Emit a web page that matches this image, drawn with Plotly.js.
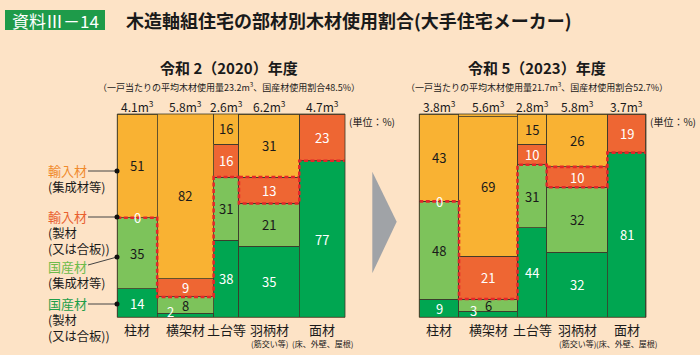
<!DOCTYPE html>
<html><head><meta charset="utf-8">
<script src="https://cdn.plot.ly/plotly-3.0.1.min.js"></script>
<style>html,body{margin:0;padding:0;background:#FDE3C6;}#chart{width:700px;height:355px;}</style>
</head><body><div id="chart"></div>
<script>
// ---- data ----
const categories = ['柱材', '横架材', '土台等', '羽柄材', '面材'];
const subLabels = ['', '', '', '(筋交い等)', '(床、外壁、屋根)'];
const layerNames = ['国産材(製材又は合板)', '国産材(集成材等)', '輸入材(製材又は合板)', '輸入材(集成材等)'];

const volume2020 = [4.1, 5.8, 2.6, 6.2, 4.7];
const domLumber2020 = [14, 2, 38, 35, 77];
const domGlulam2020 = [35, 8, 31, 21, null];
const impLumber2020 = [0, 9, 16, 13, 23];
const impGlulam2020 = [51, 82, 16, 31, null];

const volume2023 = [3.8, 5.6, 2.8, 5.8, 3.7];
const domLumber2023 = [9, 3, 44, 32, 81];
const domGlulam2023 = [48, 6, 31, 32, null];
const impLumber2023 = [0, 21, 10, 10, 19];
const impGlulam2023 = [43, 69, 15, 26, null];

const title2020 = '令和 2（2020）年度';
const note2020 = '（一戸当たりの平均木材使用量23.2m<sup>3</sup>、国産材使用割合48.5%）';
const title2023 = '令和 5（2023）年度';
const note2023 = '（一戸当たりの平均木材使用量21.7m<sup>3</sup>、国産材使用割合52.7%）';

// ---- style ----
const W = 700, H = 355;
const px = x => x / W, py = y => 1 - y / H;
const FONT = '"Noto Sans CJK JP", "Noto Sans", sans-serif';
const FILL = ['#00A651', '#7DC35B', '#EE6633', '#F9B233'];
const TXT = ['#ffffff', '#1a1a1a', '#ffffff', '#1a1a1a'];
const EDGE = '#3d3a2a';
const DASH = '#E4262A';
const highlightCol = 3;

const traces = [];
const annotations = [];
const shapes = [];

function build(vol, layers, xa, ya, title, note, titleX) {
  const n = vol.length;
  const total = vol.reduce((a, b) => a + b, 0);
  const left = [], mid = [];
  let c = 0;
  vol.forEach(v => { left.push(c); mid.push(c + v / 2); c += v; });
  const xr = xa.replace('axis', ''), yr = ya.replace('axis', '');
  layers.forEach((vals, k) => {
    traces.push({
      type: 'bar', x: mid, y: vals, width: vol, name: layerNames[k],
      xaxis: xr, yaxis: yr, showlegend: false, hoverinfo: 'skip',
      marker: {color: FILL[k], line: {color: EDGE, width: 0.8}}
    });
  });
  // labels
  const base = new Array(n).fill(0);
  layers.forEach((vals, k) => {
    vals.forEach((v, i) => {
      if (v === null) return;
      const small = v > 0 && v < 5;
      annotations.push({
        xref: xr, yref: yr, x: mid[i], y: base[i] + v / 2, text: String(v),
        showarrow: false, font: {size: 13, color: TXT[k]},
        xshift: small ? -15 : 0, yshift: small ? 4 : 0
      });
      base[i] += v;
    });
  });
  // dashed boundary between domestic and imported
  const dtop = layers[0].map((v, i) => v + (layers[1][i] || 0));
  const lx = [], ly = [];
  for (let i = 0; i < n; i++) {
    lx.push(left[i], left[i] + vol[i]); ly.push(dtop[i], dtop[i]);
  }
  const k = highlightCol;
  lx.push(null, left[k], left[k] + vol[k]);
  ly.push(null, dtop[k] + layers[2][k], dtop[k] + layers[2][k]);
  traces.push({type: 'scatter', mode: 'lines', x: lx, y: ly, xaxis: xr, yaxis: yr,
    line: {color: DASH, width: 2.6, dash: '4px,2.5px'}, hoverinfo: 'skip', showlegend: false, cliponaxis: false, connectgaps: false});
  // volume labels and categories
  vol.forEach((v, i) => {
    annotations.push({xref: xr, yref: 'paper', x: mid[i], y: py(106), text: v.toFixed(1) + 'm<sup>3</sup>',
      showarrow: false, font: {size: 12, color: '#1a1a1a'}});
    annotations.push({xref: xr, yref: 'paper', x: mid[i], y: py(329), text: categories[i],
      showarrow: false, font: {size: 13, color: '#1a1a1a'}});
    if (subLabels[i]) annotations.push({xref: xr, yref: 'paper', x: mid[i], y: py(343.5), text: subLabels[i],
      showarrow: false, font: {size: 8, color: '#1a1a1a'}});
  });
  annotations.push({xref: xr + ' domain', yref: 'paper', x: 1, xanchor: 'left', xshift: 2, y: py(121), text: '(単位：%)',
    showarrow: false, font: {size: 10, color: '#1a1a1a'}});
  annotations.push({xref: 'paper', yref: 'paper', x: px(titleX), y: py(68), text: '<b>' + title + '</b>',
    showarrow: false, font: {size: 15, color: '#1a1a1a'}});
  annotations.push({xref: 'paper', yref: 'paper', x: px(titleX), y: py(87), text: note,
    showarrow: false, font: {size: 9, color: '#1a1a1a'}});
  shapes.push({type: 'rect', xref: xr + ' domain', yref: yr + ' domain', x0: 0, x1: 1, y0: 0, y1: 1,
    line: {color: EDGE, width: 0.8}, layer: 'above'});
  return total;
}

const total2020 = build(volume2020, [domLumber2020, domGlulam2020, impLumber2020, impGlulam2020], 'xaxis', 'yaxis', title2020, note2020, 229);
const total2023 = build(volume2023, [domLumber2023, domGlulam2023, impLumber2023, impGlulam2023], 'xaxis2', 'yaxis2', title2023, note2023, 537);

// header
shapes.push({type: 'rect', xref: 'paper', yref: 'paper', x0: px(5), x1: px(105), y0: py(30), y1: py(10),
  fillcolor: '#1E9B4A', line: {width: 0}});
annotations.push({xref: 'paper', yref: 'paper', x: px(55), y: py(20), text: '資料Ⅲ－14', showarrow: false,
  font: {size: 17, color: '#ffffff'}});
annotations.push({xref: 'paper', yref: 'paper', x: px(124), xanchor: 'left', y: py(20),
  text: '<b>木造軸組住宅の部材別木材使用割合(大手住宅メーカー)</b>', showarrow: false,
  font: {size: 18, color: '#1a1a1a'}});
// arrow
shapes.push({type: 'path', xref: 'paper', yref: 'paper',
  path: `M ${px(372.3)} ${py(171.7)} L ${px(396.7)} ${py(221.7)} L ${px(372.3)} ${py(273.3)} Z`,
  fillcolor: '#A0A3A7', line: {width: 0}});

// left legend
const LH = 15.4;
const legendItems = [
  {head: '輸入材', color: '#F08A2C', lines: ['(集成材等)'], y: 171, dot: 171},
  {head: '輸入材', color: '#E9602E', lines: ['(製材', '(又は合板))'], y: 217, dot: 217},
  {head: '国産材', color: '#6DBB4B', lines: ['(集成材等)'], y: 267, dot: 257},
  {head: '国産材', color: '#1E9E4A', lines: ['(製材', '(又は合板))'], y: 304, dot: 304}
];
legendItems.forEach(it => {
  const text = `<span style="color:${it.color};font-size:13px">${it.head}</span><br>` + it.lines.join('<br>');
  annotations.push({xref: 'paper', yref: 'paper', x: px(46), xanchor: 'left', align: 'left',
    y: py(it.y + it.lines.length * LH / 2), text: text,
    showarrow: false, font: {size: 12.3, color: '#1a1a1a'}});
  shapes.push({type: 'line', xref: 'paper', yref: 'paper', x0: px(88), y0: py(it.y - (it.y !== it.dot ? 2 : 0)),
    x1: px(117), y1: py(it.dot), line: {color: '#444', width: 1}});
  shapes.push({type: 'circle', xref: 'paper', yref: 'paper', x0: px(114.5), x1: px(119.5), y0: py(it.dot + 2.5), y1: py(it.dot - 2.5),
    fillcolor: '#111', line: {width: 0}});
});
annotations.forEach(a => { a.xanchor = a.xanchor || 'center'; a.yanchor = a.yanchor || 'middle'; });

const axBase = {showgrid: false, zeroline: false, showticklabels: false, ticks: '', showline: false, fixedrange: true};
const yDom = [py(317.3), py(114)];
const layout = {
  width: W, height: H, margin: {l: 0, r: 0, t: 0, b: 0},
  paper_bgcolor: '#FDE3C6', plot_bgcolor: '#F9B233',
  font: {family: FONT, color: '#1a1a1a'},
  barmode: 'stack', showlegend: false,
  xaxis: Object.assign({}, axBase, {domain: [px(117.3), px(345)], range: [0, total2020], anchor: 'y'}),
  yaxis: Object.assign({}, axBase, {domain: yDom, range: [0, 100], anchor: 'x'}),
  xaxis2: Object.assign({}, axBase, {domain: [px(419.3), px(646)], range: [0, total2023], anchor: 'y2'}),
  yaxis2: Object.assign({}, axBase, {domain: yDom, range: [0, 100], anchor: 'x2'}),
  annotations: annotations, shapes: shapes
};
Plotly.newPlot('chart', traces, layout, {staticPlot: true, displayModeBar: false});
</script>
</body></html>
